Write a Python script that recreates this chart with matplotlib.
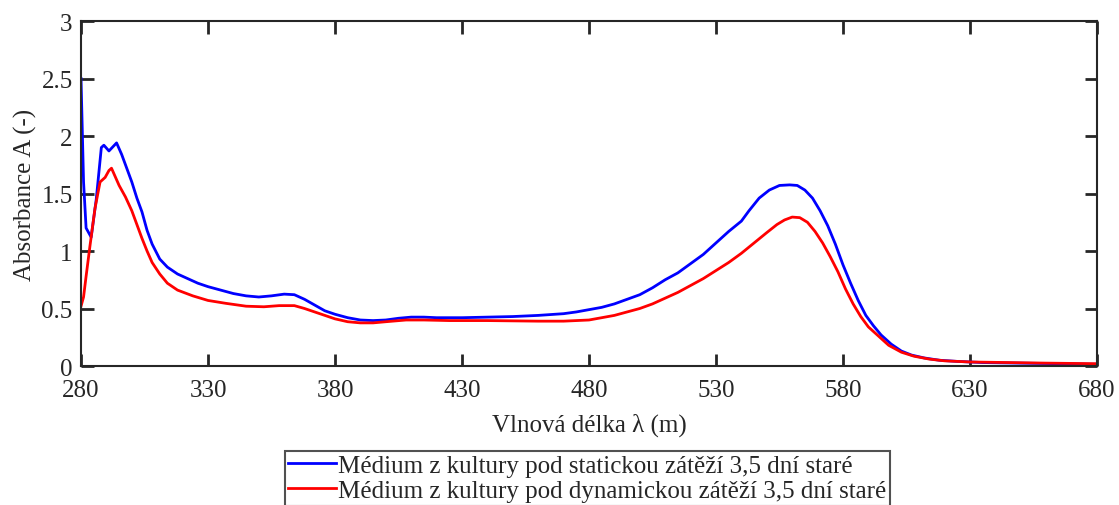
import matplotlib
matplotlib.use('Agg')
import matplotlib.pyplot as plt

plt.rcParams['font.family'] = ['Liberation Serif', 'DejaVu Serif']

# absorbance spectra of the two culture media
wl_static = [280, 281, 282, 284, 286, 288, 289, 291, 294, 296, 298, 300, 302, 304, 306, 308,
             311, 314, 318, 322, 326, 330, 335, 340, 345, 350, 355, 360, 364, 368, 372, 376,
             380, 385, 390, 395, 400, 405, 410, 415, 420, 430, 440, 450, 460, 470, 475, 480,
             485, 490, 495, 500, 505, 510, 515, 520, 525, 530, 535, 540, 543, 547, 551, 555,
             559, 562, 565, 568, 571, 574, 577, 580, 583, 586, 589, 592, 595, 599, 603, 607,
             612, 618, 625, 635, 650, 665, 680]
abs_static = [2.50, 1.60, 1.20, 1.12, 1.45, 1.90, 1.92, 1.87, 1.94, 1.84, 1.72, 1.60, 1.46, 1.34, 1.18, 1.06,
              0.93, 0.86, 0.80, 0.76, 0.72, 0.69, 0.66, 0.63, 0.61, 0.60, 0.61, 0.625, 0.62, 0.58, 0.53, 0.48,
              0.45, 0.42, 0.40, 0.395, 0.40, 0.415, 0.425, 0.425, 0.42, 0.42, 0.425, 0.43, 0.44, 0.455, 0.47, 0.49,
              0.51, 0.54, 0.58, 0.62, 0.68, 0.75, 0.81, 0.89, 0.97, 1.07, 1.17, 1.26, 1.35, 1.46, 1.53, 1.57,
              1.575, 1.57, 1.53, 1.46, 1.35, 1.22, 1.06, 0.88, 0.72, 0.57, 0.44, 0.35, 0.27, 0.19, 0.13, 0.095,
              0.07, 0.05, 0.04, 0.03, 0.025, 0.02, 0.015]

wl_dynamic = [280, 281, 282, 283.5, 285.5, 287.5, 289.5, 291, 292, 293, 295, 297.5, 300, 302, 304, 306,
              308, 311, 314, 318, 324, 330, 337, 345, 352, 358, 364, 368, 372, 376, 380, 385,
              390, 395, 400, 408, 415, 425, 440, 460, 470, 480, 485, 490, 495, 500, 505, 510,
              515, 520, 525, 530, 535, 540, 545, 550, 554, 557, 560, 563, 566, 569, 572, 575,
              578, 581, 584, 587, 590, 594, 598, 603, 608, 614, 620, 630, 645, 660, 680]
abs_dynamic = [0.52, 0.60, 0.78, 1.04, 1.37, 1.60, 1.64, 1.70, 1.72, 1.67, 1.57, 1.47, 1.35, 1.23, 1.11, 1.00,
               0.90, 0.80, 0.72, 0.66, 0.61, 0.57, 0.545, 0.52, 0.515, 0.525, 0.525, 0.50, 0.47, 0.44, 0.41, 0.385,
               0.375, 0.375, 0.385, 0.40, 0.40, 0.395, 0.395, 0.39, 0.39, 0.40, 0.42, 0.44, 0.47, 0.50, 0.54, 0.59,
               0.64, 0.70, 0.76, 0.83, 0.90, 0.98, 1.07, 1.16, 1.23, 1.27, 1.295, 1.29, 1.25, 1.17, 1.07, 0.95,
               0.82, 0.67, 0.54, 0.43, 0.34, 0.26, 0.18, 0.12, 0.085, 0.06, 0.045, 0.035, 0.03, 0.025, 0.02]

labels = ['Médium z kultury pod statickou zátěží 3,5 dní staré',
          'Médium z kultury pod dynamickou zátěží 3,5 dní staré']

xticks = list(range(280, 681, 50))
yticks = [0, 0.5, 1, 1.5, 2, 2.5, 3]
ytick_labels = ['0', '0.5', '1', '1.5', '2', '2.5', '3']

fig = plt.figure(figsize=(11.19, 5.06), dpi=100)
ax = fig.add_axes([0.0724, 0.2747, 0.9079, 0.6818])

l1, = ax.plot(wl_static, abs_static, color='#0000ff', lw=2)
l2, = ax.plot(wl_dynamic, abs_dynamic, color='#ff0000', lw=2)

ax.set_xlim(280, 680)
ax.set_ylim(0, 3)
ax.set_xticks(xticks)
ax.set_yticks(yticks)
ax.set_yticklabels(ytick_labels)
ax.tick_params(direction='in', length=9, width=2, labelsize=18, color='#262626',
               labelcolor='#262626', top=True, right=True)
ax.tick_params(axis='x', pad=9)
ax.tick_params(axis='y', pad=6)
for s in ax.spines.values():
    s.set_linewidth(1.5)
    s.set_color('#262626')

ax.set_xlabel('Vlnová délka λ (m)', fontsize=18, color='#262626', labelpad=9)
ax.set_ylabel('Absorbance A (-)', fontsize=18, color='#262626', labelpad=3)

leg = fig.legend([l1, l2], labels, loc='upper center', bbox_to_anchor=(0.525, 0.107),
                 fontsize=18, frameon=True, fancybox=False, handlelength=1.9,
                 handletextpad=0.1, borderpad=0.15, labelspacing=0.1, borderaxespad=0)
leg.get_frame().set_edgecolor('#262626')
leg.get_frame().set_linewidth(1.5)
for t in leg.get_texts():
    t.set_color('#262626')

fig.savefig('out.png', dpi=100)
